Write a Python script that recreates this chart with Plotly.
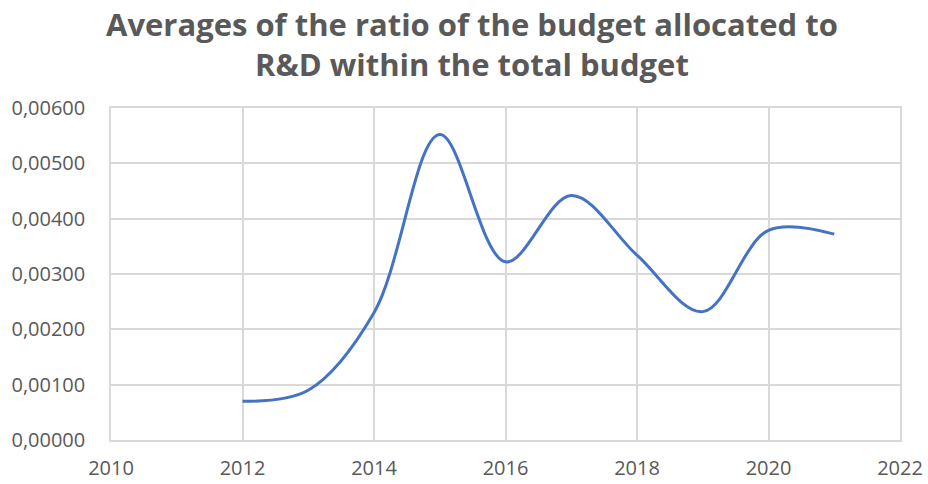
import plotly.graph_objects as go

years = [2012, 2013, 2014, 2015, 2016, 2017, 2018, 2019, 2020, 2021]
ratio = [0.00070, 0.00090, 0.00230, 0.00552, 0.00322, 0.00442, 0.00334, 0.00232, 0.00379, 0.00372]

title_text = "Averages of the ratio of the budget allocated to<br>R&D within the total budget"

fig = go.Figure()
fig.add_trace(go.Scatter(
    x=years, y=ratio, mode="lines",
    line=dict(color="#4472C4", width=3, shape="spline", smoothing=1.0),
    hoverinfo="x+y",
))

grey = "#595959"
grid = "#d9d9d9"
fig.update_layout(
    width=928, height=484,
    margin=dict(l=111, r=28, t=108, b=44),
    paper_bgcolor="white", plot_bgcolor="white",
    separators=", ",
    showlegend=False,
    font=dict(family="Open Sans", color=grey),
)
fig.add_annotation(text=title_text, xref="paper", yref="paper", x=0.458, y=1.322,
                   xanchor="center", yanchor="top", showarrow=False, align="center",
                   font=dict(family="Open Sans", size=31, color=grey, weight="bold"))

fig.update_xaxes(range=[2010, 2022], dtick=2, tick0=2010, showgrid=True, gridcolor=grid,
                 gridwidth=1.5, showline=True, linecolor=grid, linewidth=1.5, mirror=True,
                 zeroline=False, tickfont=dict(size=20, color=grey), ticklabelstandoff=9,
                 automargin=False)
fig.update_yaxes(range=[0, 0.006], dtick=0.001, tickformat=".5f", showgrid=True, gridcolor=grid,
                 gridwidth=1.5, showline=True, linecolor=grid, linewidth=1.5, mirror=True,
                 zeroline=False, tickfont=dict(size=20, color=grey), ticklabelstandoff=20,
                 automargin=False)

fig.write_html("out.html")
